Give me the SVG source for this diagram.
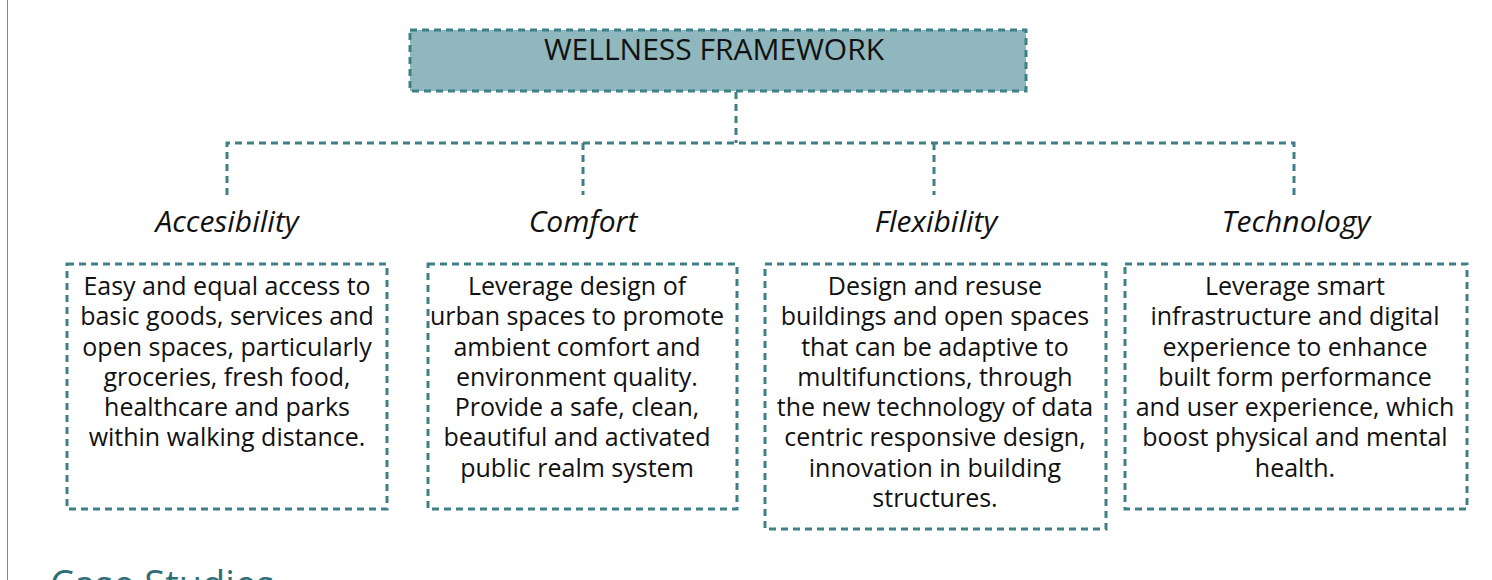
<svg xmlns="http://www.w3.org/2000/svg" width="1492" height="580" viewBox="0 0 1492 580">
<style>
.dash{fill:none;stroke:#3f8088;stroke-width:3;stroke-dasharray:7 5}
.body{font-family:"Open Sans","Noto Sans",sans-serif;font-size:25px;fill:#111;text-anchor:middle}
.head{font-family:"Open Sans","Noto Sans",sans-serif;font-size:30px;font-style:italic;fill:#111;text-anchor:middle}
</style>
<rect width="1492" height="580" fill="#ffffff"/>
<line x1="7.5" y1="0" x2="7.5" y2="580" stroke="#888" stroke-width="1"/>
<g id="connectors">
<path class="dash" d="M736 92 V143"/>
<path class="dash" d="M227 195 V143 H1294 V195"/>
<path class="dash" d="M583 143 V195"/>
<path class="dash" d="M934 143 V195"/>
</g>
<g id="root">
<rect x="410" y="30" width="616" height="61" class="dash" style="fill:#8fb7bd"/>
<text x="714" y="60" style="font-family:'Open Sans','Noto Sans',sans-serif;font-size:30px;fill:#111;text-anchor:middle">WELLNESS FRAMEWORK</text>
</g>
<g id="accesibility">
<text class="head" x="227" y="232">Accesibility</text>
<rect class="dash" x="67" y="264" width="320" height="245"/>
<text class="body"><tspan x="227" y="295">Easy and equal access to</tspan><tspan x="227" y="325">basic goods, services and</tspan><tspan x="227" y="356">open spaces, particularly</tspan><tspan x="227" y="386">groceries, fresh food,</tspan><tspan x="227" y="416">healthcare and parks</tspan><tspan x="227" y="446">within walking distance.</tspan></text>
</g>
<g id="comfort">
<text class="head" x="583" y="232">Comfort</text>
<rect class="dash" x="428" y="264" width="309" height="245"/>
<text class="body"><tspan x="577" y="295">Leverage design of</tspan><tspan x="577" y="325">urban spaces to promote</tspan><tspan x="577" y="356">ambient comfort and</tspan><tspan x="577" y="386">environment quality.</tspan><tspan x="577" y="416">Provide a safe, clean,</tspan><tspan x="577" y="446">beautiful and activated</tspan><tspan x="577" y="477">public realm system</tspan></text>
</g>
<g id="flexibility">
<text class="head" x="936" y="232">Flexibility</text>
<rect class="dash" x="765" y="264" width="341" height="265"/>
<text class="body"><tspan x="935" y="295">Design and resuse</tspan><tspan x="935" y="325">buildings and open spaces</tspan><tspan x="935" y="356">that can be adaptive to</tspan><tspan x="935" y="386">multifunctions, through</tspan><tspan x="935" y="416">the new technology of data</tspan><tspan x="935" y="446">centric responsive design,</tspan><tspan x="935" y="477">innovation in building</tspan><tspan x="935" y="507">structures.</tspan></text>
</g>
<g id="technology">
<text class="head" x="1296" y="232">Technology</text>
<rect class="dash" x="1125" y="264" width="342" height="245"/>
<text class="body"><tspan x="1295" y="295">Leverage smart</tspan><tspan x="1295" y="325">infrastructure and digital</tspan><tspan x="1295" y="356">experience to enhance</tspan><tspan x="1295" y="386">built form performance</tspan><tspan x="1295" y="416">and user experience, which</tspan><tspan x="1295" y="446">boost physical and mental</tspan><tspan x="1295" y="477">health.</tspan></text>
</g>
<text x="50" y="598" style="font-family:'Open Sans','Noto Sans',sans-serif;font-size:38px;fill:#2f6e78">Case Studies</text>
</svg>
